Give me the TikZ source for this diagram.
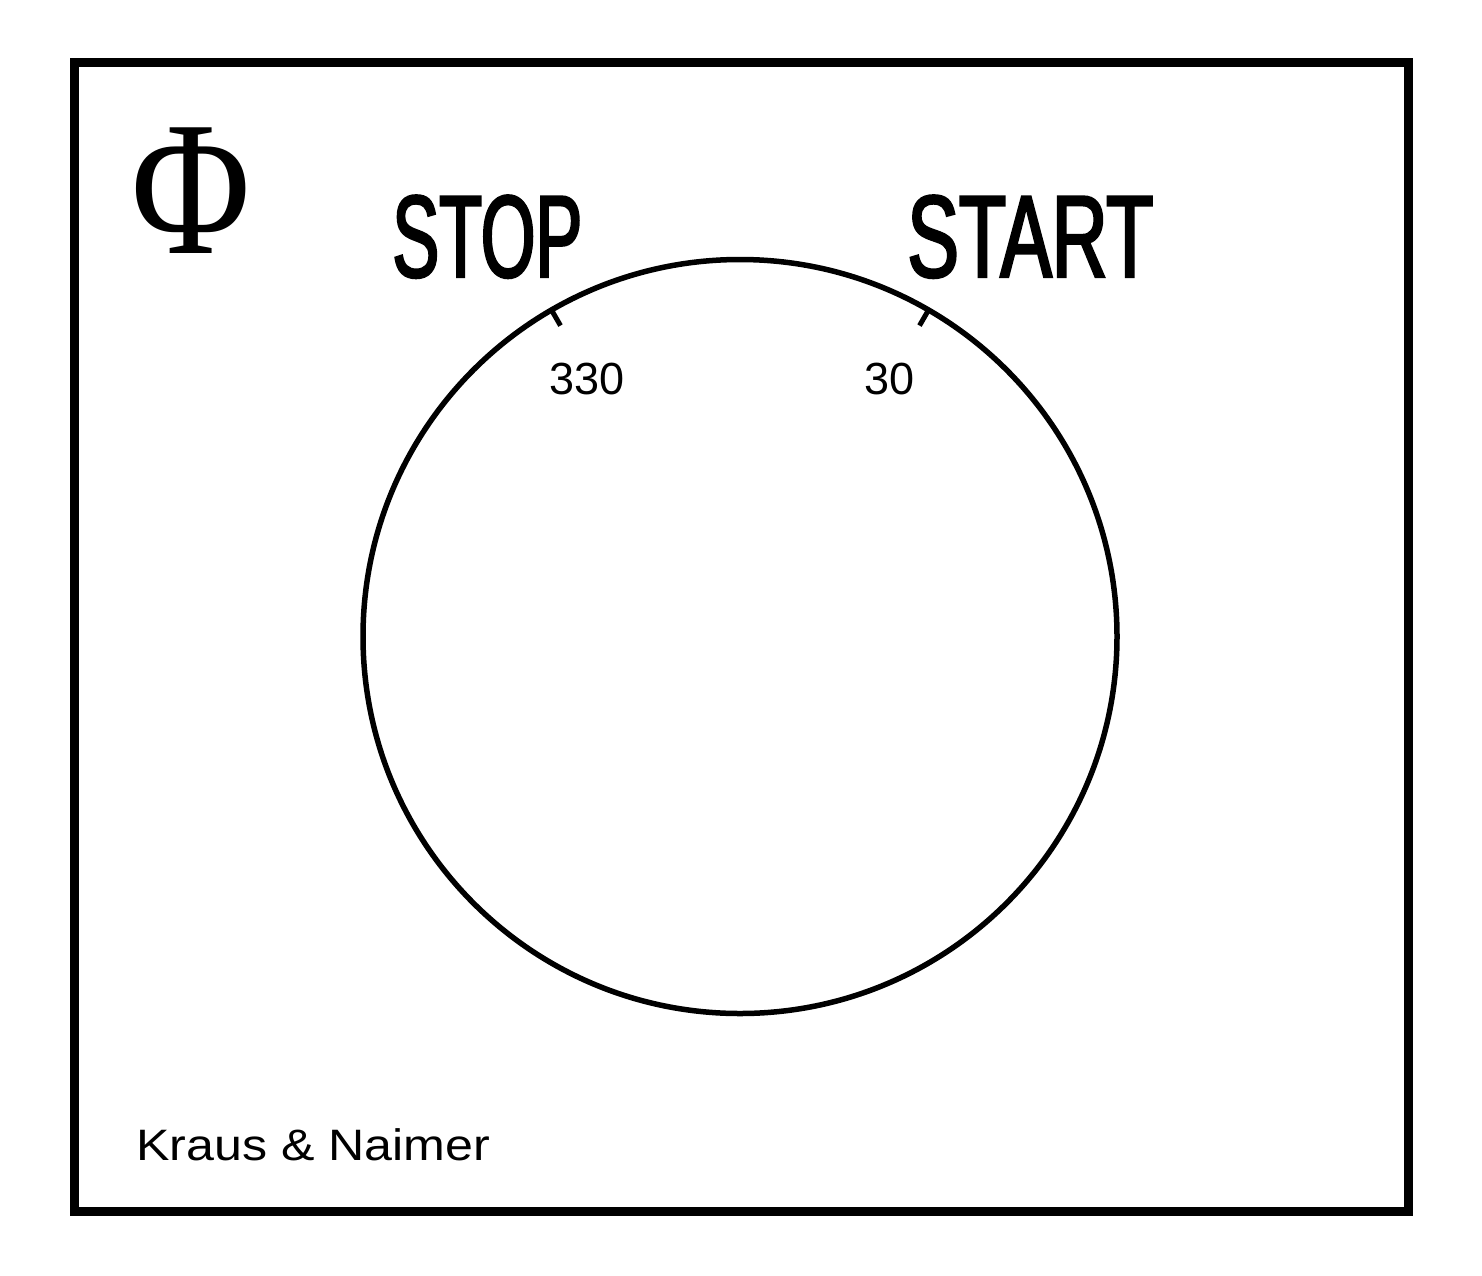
\documentclass[tikz,border=0pt]{standalone}
\usepackage{fontspec}
\usetikzlibrary{calc}
\setmainfont{Liberation Sans}
\newfontfamily\condfont[FakeStretch=0.6,FakeBold=2]{Liberation Sans}
\newfontfamily\phifont[FakeStretch=0.85]{Liberation Serif}

\tikzset{every picture/.style={line width=0.75pt}}
\tikzset{
  label/.style={inner sep=0pt, anchor=base west, font=\fontsize{45}{45}\selectfont},
  bigword/.style={inner sep=0pt, anchor=base west, font=\condfont\fontsize{117}{117}\selectfont},
  dialtick/.style={line width=5pt}
}

\begin{document}
\begin{tikzpicture}[x=1pt,y=1pt,yscale=-1,xscale=1]
\useasboundingbox (0,0) rectangle (1482,1275);

%Shape: Rectangle [frame]
\draw [line width=9pt] (74.5,62.5) rectangle (1408,1211) ;

%Shape: Circle [dial]
\coordinate (dial) at (740,636.5) ;
\draw [line width=5.5pt] (dial) circle (377) ;

%Shape: Ticks
\draw [dialtick] ($(dial)+(-120:377)$) coordinate (tstop) -- ($(dial)+(-120:359)$) ;
\draw [dialtick] ($(dial)+(-60:377)$) coordinate (tstart) -- ($(dial)+(-60:359)$) ;

% Text Node
\node [font=\phifont\fontsize{192}{192}\selectfont, inner sep=0pt] (phi) at (191.5,190.5) {Φ};
% Text Node
\node [bigword] (stop) at (392,277) {STOP};
% Text Node
\node [bigword] (start) at (907,277) {\scalebox{1.1}[1]{START}};
% Text Node
\node [label] (n330) at (549,394) {330};
% Text Node
\node [label] (n30) at (864,394) {30};
% Text Node
\node [label, font=\fontsize{44}{44}\selectfont] (maker) at (136,1160) {\scalebox{1.14}[1]{Kraus \& Naimer}};
\end{tikzpicture}
\end{document}
